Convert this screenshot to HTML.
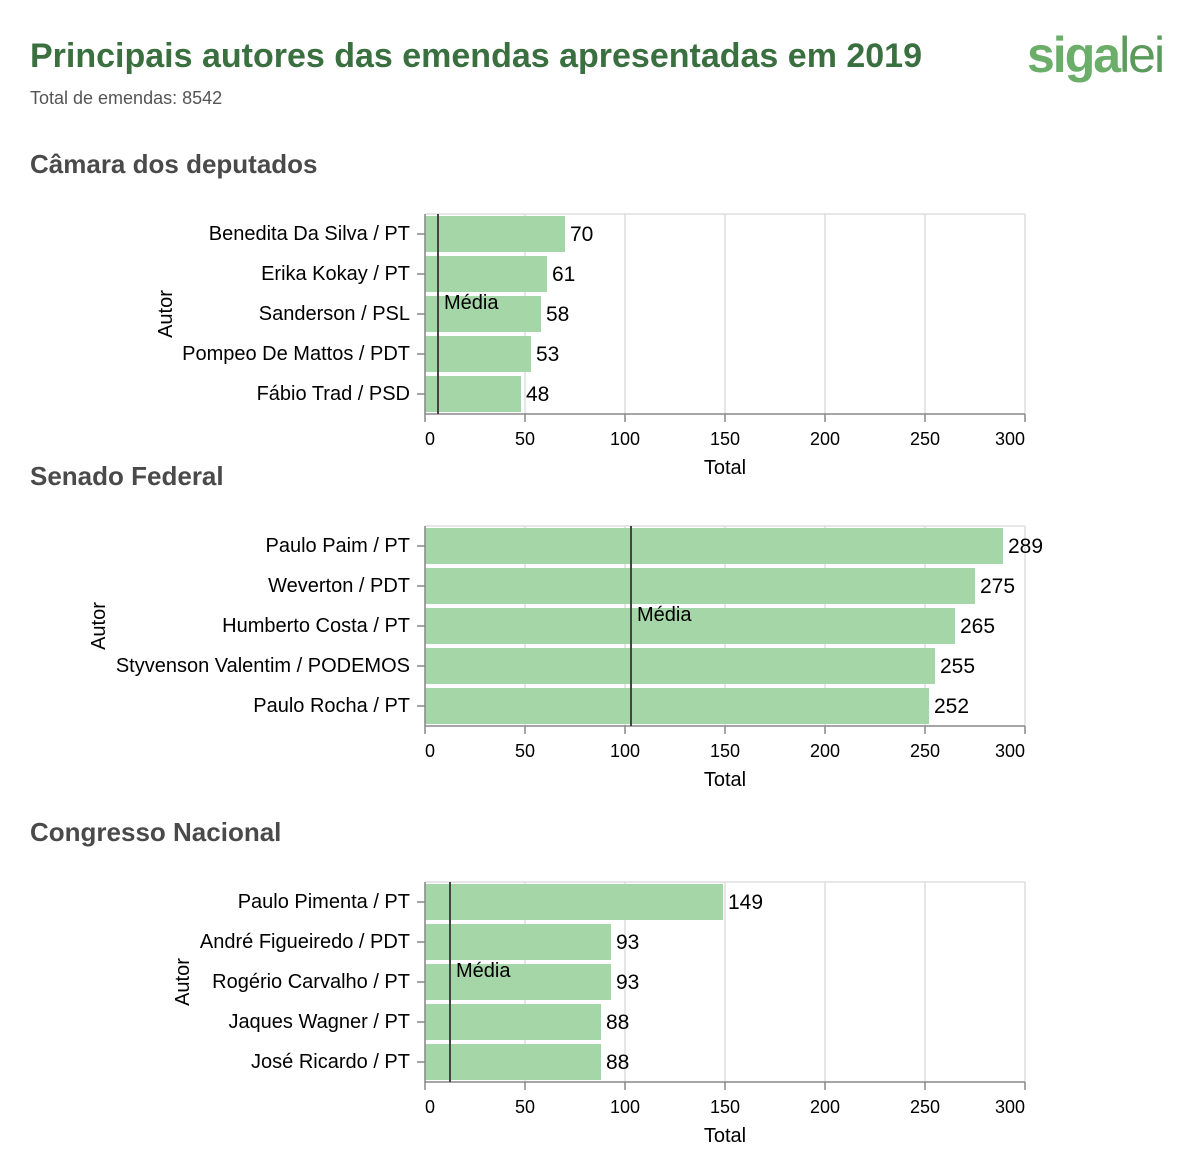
<!DOCTYPE html>
<html><head><meta charset="utf-8"><style>
body{margin:0;background:#fff;width:1190px;height:1152px;overflow:hidden;font-family:"Liberation Sans",sans-serif}
</style></head><body>
<svg id="s" width="1190" height="1152" xmlns="http://www.w3.org/2000/svg" font-family="Liberation Sans, sans-serif">
<text x="30" y="67" font-size="34" font-weight="bold" fill="#3a7040">Principais autores das emendas apresentadas em 2019</text>
<text x="30" y="104" font-size="18" fill="#555">Total de emendas: 8542</text>
<text x="1027" y="72" font-size="50" font-weight="bold" fill="#6aae6a" letter-spacing="-2">siga<tspan fill="#5a9a5a" font-weight="normal">lei</tspan></text>
<g id="charts"></g>
</svg>
<script>
const cat1=["Benedita Da Silva / PT","Erika Kokay / PT","Sanderson / PSL","Pompeo De Mattos / PDT","Fábio Trad / PSD"];
const val1=[70,61,58,53,48];
const mean1=6.5;
const cat2=["Paulo Paim / PT","Weverton / PDT","Humberto Costa / PT","Styvenson Valentim / PODEMOS","Paulo Rocha / PT"];
const val2=[289,275,265,255,252];
const mean2=103;
const cat3=["Paulo Pimenta / PT","André Figueiredo / PDT","Rogério Carvalho / PT","Jaques Wagner / PT","José Ricardo / PT"];
const val3=[149,93,93,88,88];
const mean3=12.5;
const ticks=[0,50,100,150,200,250,300];
const sections=["Câmara dos deputados","Senado Federal","Congresso Nacional"];
const NS="http://www.w3.org/2000/svg";
const root=document.getElementById('charts');
function mk(tag,attrs,parent,txt){const e=document.createElementNS(NS,tag);for(const k in attrs)e.setAttribute(k,attrs[k]);if(txt!==undefined)e.textContent=txt;parent.appendChild(e);return e;}
function chart(idx,cats,vals,mean,top,secY,autorX){
  const x0=425,w=600,h=200;
  const x=v=>x0+v*w/300;
  const band=h/cats.length;
  const g=mk('g',{},root);
  
  
  const st=mk('text',{x:30,y:secY,'font-size':26,'font-weight':'bold',fill:'#4a4a4a'},g,sections[idx]);
  
  
  ticks.forEach(t=>{
    const gl=mk('line',{x1:x(t),x2:x(t),y1:top,y2:top+h,stroke:'#ddd','stroke-width':1.5},g);
    
    
    mk('line',{x1:x(t),x2:x(t),y1:top+h,y2:top+h+8,stroke:'#888','stroke-width':1.5},g);
    const tl=mk('text',{x:x(t),y:top+h+31,'font-size':18,fill:'#000','text-anchor':t===0?'start':(t===300?'end':'middle')},g,t);
    
    
  });
  mk('line',{x1:x0,x2:x0+w,y1:top,y2:top,stroke:'#ddd','stroke-width':1.5},g);
  cats.forEach((c,i)=>{
    const y=top+i*band;
    const b=mk('rect',{x:x0,y:y+2,width:x(vals[i])-x0,height:band-4,fill:'#a5d6a7'},g);
    
    
    const v=mk('text',{x:x(vals[i])+5,y:y+band/2+7,'font-size':21,fill:'#000'},g,vals[i]);
    
    
    mk('line',{x1:x0-8,x2:x0,y1:y+band/2,y2:y+band/2,stroke:'#888','stroke-width':1.5},g);
    const l=mk('text',{x:x0-15,y:y+band/2+6,'font-size':20,fill:'#000','text-anchor':'end'},g,c);
    
    
  });
  mk('line',{x1:x0,x2:x0+w,y1:top+h,y2:top+h,stroke:'#888','stroke-width':1.5},g);
  mk('line',{x1:x0,x2:x0,y1:top,y2:top+h,stroke:'#888','stroke-width':1.5},g);
  const ml=mk('line',{x1:x(mean),x2:x(mean),y1:top,y2:top+h,stroke:'#444','stroke-width':2},g);
  
  
  const mt=mk('text',{x:x(mean)+6,y:top+95,'font-size':20,fill:'#000'},g,'Média');
  
  
  const xt=mk('text',{x:x(150),y:top+h+60,'font-size':20,fill:'#000','text-anchor':'middle'},g,'Total');
  
  
  const yt=mk('text',{x:autorX,y:top+h/2,'font-size':20,fill:'#000','text-anchor':'middle',transform:`rotate(-90 ${autorX} ${top+h/2})`},g,'Autor');
  
  
}
chart(0,cat1,val1,mean1,214,173,172);
chart(1,cat2,val2,mean2,526,485,105);
chart(2,cat3,val3,mean3,882,841,189);
</script>
</body></html>
